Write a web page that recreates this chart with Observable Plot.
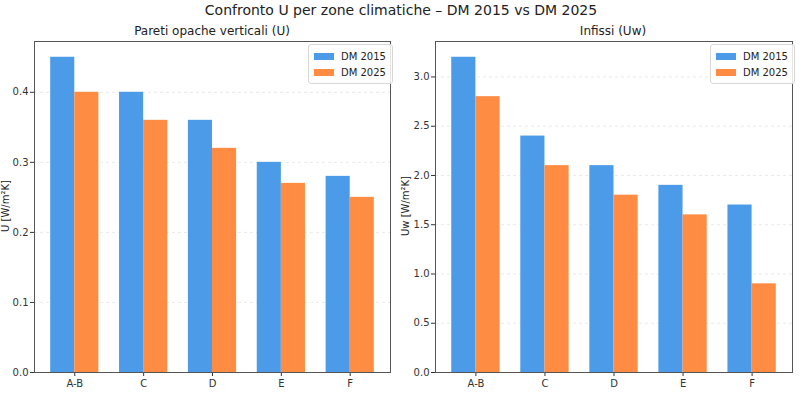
<!DOCTYPE html>
<html><head><meta charset="utf-8">
<script src="https://cdn.jsdelivr.net/npm/d3@7"></script>
<script src="https://cdn.jsdelivr.net/npm/@observablehq/plot@0.6"></script>
<style>
body{margin:0;background:#fff;font-family:"DejaVu Sans",sans-serif;}
#wrap{position:relative;width:803px;height:396px;overflow:hidden;}
.abs{position:absolute;white-space:nowrap;color:#222;}
.legend{position:absolute;border:1px solid #d8d8d8;border-radius:3px;background:rgba(255,255,255,0.85);padding:3px 6px 3px 5px;font-size:10px;color:#222;}
.legend div{display:flex;align-items:center;height:16px;}
.legend span.sw{display:inline-block;width:20px;height:7px;margin-right:7px;}
svg text{font-family:"DejaVu Sans",sans-serif;}
</style></head>
<body><div id="wrap"></div>
<script>
const categories = ["A-B","C","D","E","F"];
const series = ["DM 2015","DM 2025"];
const wallsU2015 = [0.45,0.40,0.36,0.30,0.28];
const wallsU2025 = [0.40,0.36,0.32,0.27,0.25];
const windowsUw2015 = [3.2,2.4,2.1,1.9,1.7];
const windowsUw2025 = [2.8,2.1,1.8,1.6,0.9];
const leftTicks = [0,0.1,0.2,0.3,0.4];
const rightTicks = [0,0.5,1.0,1.5,2.0,2.5,3.0];
const colors = ["#4C9BE8","#FF8C42"];
const title = "Confronto U per zone climatiche – DM 2015 vs DM 2025";
const leftTitle = "Pareti opache verticali (U)";
const rightTitle = "Infissi (Uw)";
const leftYLabel = "U [W/m²K]";
const rightYLabel = "Uw [W/m²K]";

const W = 0.35;
function rows(a,b){
  const r=[];
  categories.forEach((c,i)=>{
    r.push({i, s:series[0], x1:i-W, x2:i, v:a[i]});
    r.push({i, s:series[1], x1:i, x2:i+W, v:b[i]});
  });
  return r;
}
function panel(data, ticks, ymax, width){
  return Plot.plot({
    width, height:396, marginLeft:34, marginRight:10, marginTop:41, marginBottom:24,
    style:{fontSize:"10px", fontFamily:"DejaVu Sans", color:"#333", background:"transparent"},
    x:{type:"linear", domain:[-0.585, 4.585]},
    y:{domain:[0,ymax]},
    color:{domain:series, range:colors},
    marks:[
      Plot.ruleY(ticks.slice(1), {stroke:"#d0d0d0", strokeOpacity:0.6, strokeDasharray:"3,3", strokeWidth:0.8}),
      Plot.rectY(data, {x1:"x1", x2:"x2", y1:0, y2:"v", fill:"s"}),
      Plot.axisX({ticks:[0,1,2,3,4], tickFormat:i=>categories[i], label:null, tickSize:4, tickPadding:3}),
      Plot.axisY({ticks, tickFormat:d=>d.toFixed(1), label:null, tickSize:4, tickPadding:2}),
      Plot.frame({stroke:"#555", strokeWidth:1})
    ]
  });
}
const wrap = document.getElementById("wrap");
const p1 = panel(rows(wallsU2015,wallsU2025), leftTicks, 0.4725, 400);
p1.style.position="absolute"; p1.style.left="0px"; p1.style.top="0px";
const p2 = panel(rows(windowsUw2015,windowsUw2025), rightTicks, 3.36, 401);
p2.style.position="absolute"; p2.style.left="401px"; p2.style.top="0px";
wrap.appendChild(p1); wrap.appendChild(p2);

function addText(txt, cx, cy, size, rot){
  const d=document.createElement("div");
  d.className="abs"; d.textContent=txt; d.style.fontSize=size+"px";
  d.style.left=cx+"px"; d.style.top=cy+"px";
  d.style.transform="translate(-50%,-50%)"+(rot?" rotate(-90deg)":"");
  wrap.appendChild(d);
}
addText(title, 401, 10, 14);
addText(leftTitle, 212, 31, 12);
addText(rightTitle, 613, 31, 12);
addText(leftYLabel, 5, 206, 10, true);
addText(rightYLabel, 405, 206, 10, true);

function legend(right){
  const l=document.createElement("div"); l.className="legend";
  l.style.left=right+"px"; l.style.top="44px";
  series.forEach((s,k)=>{
    const r=document.createElement("div");
    r.innerHTML='<span class="sw" style="background:'+colors[k]+'"></span>'+s;
    l.appendChild(r);
  });
  wrap.appendChild(l);
}
legend(308); legend(710);
</script></body></html>
